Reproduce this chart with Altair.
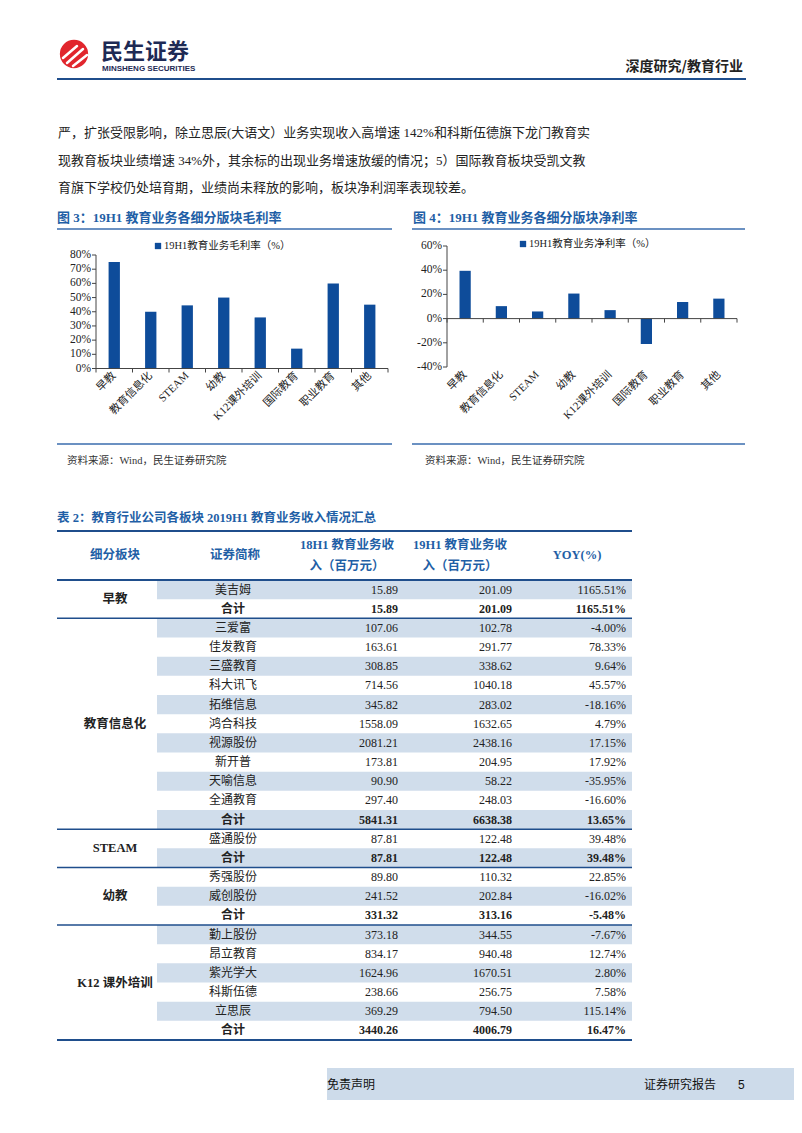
import altair as alt
import pandas as pd

# ---------------- data ----------------
para_lines = [
    "严，扩张受限影响，除立思辰(大语文）业务实现收入高增速 142%和科斯伍德旗下龙门教育实",
    "现教育板块业绩增速 34%外，其余标的出现业务增速放缓的情况；5）国际教育板块受凯文教",
    "育旗下学校仍处培育期，业绩尚未释放的影响，板块净利润率表现较差。",
]
categories = ["早教", "教育信息化", "STEAM", "幼教", "K12课外培训", "国际教育", "职业教育", "其他"]
gross_margin = [75, 40, 44.5, 50, 36, 14, 60, 45]
net_margin = [39.5, 10.3, 5.9, 20.7, 7.0, -21.0, 13.7, 16.5]
gm_ticks = [0, 10, 20, 30, 40, 50, 60, 70, 80]
nm_ticks = [-40, -20, 0, 20, 40, 60]

segments = ["早教", "教育信息化", "STEAM", "幼教", "K12 课外培训"]
segment_rows = [2, 11, 2, 3, 6]
companies = ["美吉姆", "合计", "三爱富", "佳发教育", "三盛教育", "科大讯飞", "拓维信息", "鸿合科技",
             "视源股份", "新开普", "天喻信息", "全通教育", "合计", "盛通股份", "合计", "秀强股份",
             "威创股份", "合计", "勤上股份", "昂立教育", "紫光学大", "科斯伍德", "立思辰", "合计"]
rev_18h1 = [15.89, 15.89, 107.06, 163.61, 308.85, 714.56, 345.82, 1558.09, 2081.21, 173.81, 90.90,
            297.40, 5841.31, 87.81, 87.81, 89.80, 241.52, 331.32, 373.18, 834.17, 1624.96, 238.66,
            369.29, 3440.26]
rev_19h1 = [201.09, 201.09, 102.78, 291.77, 338.62, 1040.18, 283.02, 1632.65, 2438.16, 204.95, 58.22,
            248.03, 6638.38, 122.48, 122.48, 110.32, 202.84, 313.16, 344.55, 940.48, 1670.51, 256.75,
            794.50, 4006.79]
yoy_pct = [1165.51, 1165.51, -4.00, 78.33, 9.64, 45.57, -18.16, 4.79, 17.15, 17.92, -35.95, -16.60,
           13.65, 39.48, 39.48, 22.85, -16.02, -5.48, -7.67, 12.74, 2.80, 7.58, 115.14, 16.47]

# ---------------- styling ----------------
W, H = 786, 1110
def P(v):
    return v - 8

SERIF = "Liberation Serif, Noto Sans CJK SC"
CJK = "Noto Sans CJK SC"
BAR = "#0E4C9A"
TITLE_BLUE = "#1F5FA6"
LINE_BLUE = "#3A6DAE"
DARK_BLUE = "#1F4E8C"
SHADE = "#D0DDEB"
TXT = "#222222"

one = pd.DataFrame({"d": [0]})
layers = []

def text(s, x, y, size, font=SERIF, color=TXT, bold=False, align="left", baseline="middle"):
    return alt.Chart(pd.DataFrame({"t": [s]})).mark_text(
        fontSize=size, font=font, color=color, fontWeight="bold" if bold else "normal",
        align=align, baseline=baseline
    ).encode(x=alt.value(x), y=alt.value(y), text="t:N")

def hline(x1, x2, y, color, w):
    return alt.Chart(one).mark_rule(color=color, strokeWidth=w).encode(
        x=alt.value(x1), x2=alt.value(x2), y=alt.value(y))

# ---------------- header ----------------
layers.append(alt.Chart(one).mark_point(shape="circle", filled=True, size=800, color="#E1262D", opacity=1)
              .encode(x=alt.value(P(74)), y=alt.value(P(54))))
for (x1, y1, x2, y2) in [(63, 58, 77, 46), (67, 63, 83, 49), (73, 66, 87, 55)]:
    layers.append(alt.Chart(one).mark_rule(color="white", strokeWidth=2.5, strokeCap="round").encode(
        x=alt.value(P(x1)), y=alt.value(P(y1)), x2=alt.value(P(x2)), y2=alt.value(P(y2))))
layers.append(text("民生证券", P(101), P(52), 22, font=CJK, color="#1E2A55", bold=True))
layers.append(text("MINSHENG SECURITIES", P(102), P(69), 8, font="Liberation Sans", color="#1E2A55", bold=True))
layers.append(text("深度研究/教育行业", P(743), P(67), 14, font=CJK, color="#222", bold=True, align="right"))
layers.append(hline(P(57), P(746), P(79), DARK_BLUE, 2))

# ---------------- paragraph ----------------
para_df = pd.DataFrame({"i": list(range(len(para_lines))), "t": para_lines})
layers.append(alt.Chart(para_df).mark_text(fontSize=13, font=SERIF, color=TXT, align="left", baseline="middle")
              .encode(x=alt.value(P(58)),
                      y=alt.Y("i:Q", scale=alt.Scale(domain=[0, 2], range=[P(133), P(188)], nice=False, zero=False), axis=None),
                      text="t:N"))

# ---------------- figure titles / frames ----------------
layers.append(text("图 3：19H1 教育业务各细分版块毛利率", P(57), P(218), 13, color=TITLE_BLUE, bold=True))
layers.append(text("图 4：19H1 教育业务各细分版块净利率", P(413), P(218), 13, color=TITLE_BLUE, bold=True))
layers.append(hline(P(57), P(392), P(229), LINE_BLUE, 1.5))
layers.append(hline(P(412), P(745), P(229), LINE_BLUE, 1.5))
layers.append(hline(P(57), P(392), P(444), LINE_BLUE, 1.5))
layers.append(hline(P(412), P(745), P(444), LINE_BLUE, 1.5))
layers.append(text("资料来源：Wind，民生证券研究院", P(67), P(461), 10.5, color="#333"))
layers.append(text("资料来源：Wind，民生证券研究院", P(425), P(461), 10.5, color="#333"))


def bar_panel(values, ticks, dom, yr, xr, legend_text, legend_xy, label_y, tick_fmt):
    n = len(categories)
    df = pd.DataFrame({"cat": categories, "v": values})
    xs = alt.Scale(type="band", domain=categories, range=[P(xr[0]), P(xr[1])], paddingInner=0.69, paddingOuter=0.345)
    ys = alt.Scale(domain=dom, range=[P(yr[0]), P(yr[1])], nice=False, zero=False)
    xq = alt.Scale(domain=[0, n], range=[P(xr[0]), P(xr[1])], nice=False, zero=False)
    zero_px = P(yr[0]) + (0 - dom[0]) / (dom[1] - dom[0]) * (P(yr[1]) - P(yr[0]))
    out = []
    out.append(alt.Chart(df).mark_bar(color=BAR).encode(
        x=alt.X("cat:N", scale=xs, axis=None, sort=None),
        y=alt.Y("v:Q", scale=ys, axis=None)))
    # y axis line
    out.append(alt.Chart(pd.DataFrame({"lo": [dom[0]], "hi": [dom[1]]})).mark_rule(color="#444", strokeWidth=1).encode(
        x=alt.value(P(xr[0])), y=alt.Y("lo:Q", scale=ys, axis=None), y2="hi:Q"))
    tdf = pd.DataFrame({"t": ticks, "lab": [tick_fmt(t) for t in ticks]})
    out.append(alt.Chart(tdf).mark_rule(color="#444", strokeWidth=1).encode(
        x=alt.value(P(xr[0] - 4)), x2=alt.value(P(xr[0])), y=alt.Y("t:Q", scale=ys, axis=None)))
    out.append(alt.Chart(tdf).mark_text(fontSize=11.5, font=SERIF, color=TXT, align="right", baseline="middle").encode(
        x=alt.value(P(xr[0] - 5)), y=alt.Y("t:Q", scale=ys, axis=None), text="lab:N"))
    # x axis line at zero
    out.append(alt.Chart(pd.DataFrame({"z": [0]})).mark_rule(color="#444", strokeWidth=1).encode(
        x=alt.value(P(xr[0])), x2=alt.value(P(xr[1])), y=alt.Y("z:Q", scale=ys, axis=None)))
    kdf = pd.DataFrame({"k": list(range(n + 1)), "z": [0] * (n + 1)})
    out.append(alt.Chart(kdf).mark_rule(color="#444", strokeWidth=1).encode(
        x=alt.X("k:Q", scale=xq, axis=None), y=alt.Y("z:Q", scale=ys, axis=None),
        y2=alt.value(zero_px + 4)))
    # category labels
    out.append(alt.Chart(df).mark_text(fontSize=11, font=SERIF, color=TXT, angle=315, align="right", baseline="middle").encode(
        x=alt.X("cat:N", scale=xs, axis=None, sort=None), y=alt.value(P(label_y)), text="cat:N"))
    # legend
    out.append(alt.Chart(one).mark_square(size=40, color=BAR, opacity=1).encode(
        x=alt.value(P(legend_xy[0])), y=alt.value(P(legend_xy[1]))))
    out.append(text(legend_text, P(legend_xy[0] + 6), P(legend_xy[1]), 10.5, color=TXT))
    return out


layers += bar_panel(gross_margin, gm_ticks, [0, 80], (368.5, 255), (96, 388),
                    "19H1教育业务毛利率（%）", (158, 246), 374, lambda t: f"{t}%")
layers += bar_panel(net_margin, nm_ticks, [-40, 60], (367, 246), (447, 737),
                    "19H1教育业务净利率（%）", (523, 244), 373, lambda t: f"{t}%")

# ---------------- table ----------------
layers.append(text("表 2：教育行业公司各板块 2019H1 教育业务收入情况汇总", P(57), P(518), 12.5, color=TITLE_BLUE, bold=True))
layers.append(hline(P(57), P(632), P(531), DARK_BLUE, 2))

hdr_y1, hdr_y2, hdr_mid = P(545), P(566), P(555)
layers.append(text("细分板块", P(115), hdr_mid, 12.5, color=TITLE_BLUE, bold=True, align="center"))
layers.append(text("证券简称", P(235), hdr_mid, 12.5, color=TITLE_BLUE, bold=True, align="center"))
layers.append(text("18H1 教育业务收", P(347), hdr_y1, 12.5, color=TITLE_BLUE, bold=True, align="center"))
layers.append(text("入（百万元）", P(347), hdr_y2, 12.5, color=TITLE_BLUE, bold=True, align="center"))
layers.append(text("19H1 教育业务收", P(460), hdr_y1, 12.5, color=TITLE_BLUE, bold=True, align="center"))
layers.append(text("入（百万元）", P(460), hdr_y2, 12.5, color=TITLE_BLUE, bold=True, align="center"))
layers.append(text("YOY(%)", P(577), hdr_mid, 12.5, color=TITLE_BLUE, bold=True, align="center"))

n_rows = len(companies)
ty = alt.Scale(domain=[0, n_rows], range=[P(580), P(1040)], nice=False, zero=False)
rows = pd.DataFrame({
    "i": list(range(n_rows)),
    "i1": [i + 1 for i in range(n_rows)],
    "mid": [i + 0.5 for i in range(n_rows)],
    "name": companies,
    "a": [f"{v:.2f}" for v in rev_18h1],
    "b": [f"{v:.2f}" for v in rev_19h1],
    "c": [f"{v:.2f}%" for v in yoy_pct],
    "bold": [c == "合计" for c in companies],
    "shade": [i % 2 == 0 for i in range(n_rows)],
})
layers.append(alt.Chart(rows).transform_filter("datum.shade").mark_rect(color=SHADE).encode(
    x=alt.value(P(157)), x2=alt.value(P(632)),
    y=alt.Y("i:Q", scale=ty, axis=None), y2="i1:Q"))

cols = [("name", P(233), "center"), ("a", P(398), "right"), ("b", P(512), "right"), ("c", P(626), "right")]
for field, xpos, al in cols:
    for is_bold in (False, True):
        flt = "datum.bold" if is_bold else "!datum.bold"
        layers.append(alt.Chart(rows).transform_filter(flt).mark_text(
            fontSize=12, font=SERIF, color=TXT, align=al, baseline="middle",
            fontWeight="bold" if is_bold else "normal").encode(
            x=alt.value(xpos), y=alt.Y("mid:Q", scale=ty, axis=None), text=f"{field}:N"))

starts = []
acc = 0
for n in segment_rows:
    starts.append(acc)
    acc += n
seg_df = pd.DataFrame({"seg": segments,
                       "mid": [s + n / 2 for s, n in zip(starts, segment_rows)]})
layers.append(alt.Chart(seg_df).mark_text(fontSize=12.5, font=SERIF, color=TXT, fontWeight="bold",
                                          align="center", baseline="middle").encode(
    x=alt.value(P(115)), y=alt.Y("mid:Q", scale=ty, axis=None), text="seg:N"))

bounds = [0] + [s + n for s, n in zip(starts, segment_rows)]
thick = pd.DataFrame({"y": [bounds[0], bounds[-1]]})
thin = pd.DataFrame({"y": bounds[1:-1]})
layers.append(alt.Chart(thick).mark_rule(color=DARK_BLUE, strokeWidth=2).encode(
    x=alt.value(P(57)), x2=alt.value(P(632)), y=alt.Y("y:Q", scale=ty, axis=None)))
layers.append(alt.Chart(thin).mark_rule(color=DARK_BLUE, strokeWidth=1.5).encode(
    x=alt.value(P(57)), x2=alt.value(P(632)), y=alt.Y("y:Q", scale=ty, axis=None)))

# ---------------- footer ----------------
layers.append(alt.Chart(one).mark_rect(color="#CDDBEA").encode(
    x=alt.value(P(327)), x2=alt.value(W), y=alt.value(P(1068)), y2=alt.value(P(1100))))
layers.append(text("免责声明", P(327), P(1085), 12, font=CJK, color="#111"))
layers.append(text("证券研究报告", P(644), P(1085), 12, font=CJK, color="#111"))
layers.append(text("5", P(738), P(1085), 12, font="Liberation Sans", color="#111"))

chart = alt.layer(*layers).resolve_scale(x="independent", y="independent").properties(
    width=W, height=H, autosize=alt.AutoSizeParams(type="none"), padding=0, background="white"
).configure_view(stroke=None)

chart.save("out.html", embed_options={"renderer": "svg", "actions": False})
